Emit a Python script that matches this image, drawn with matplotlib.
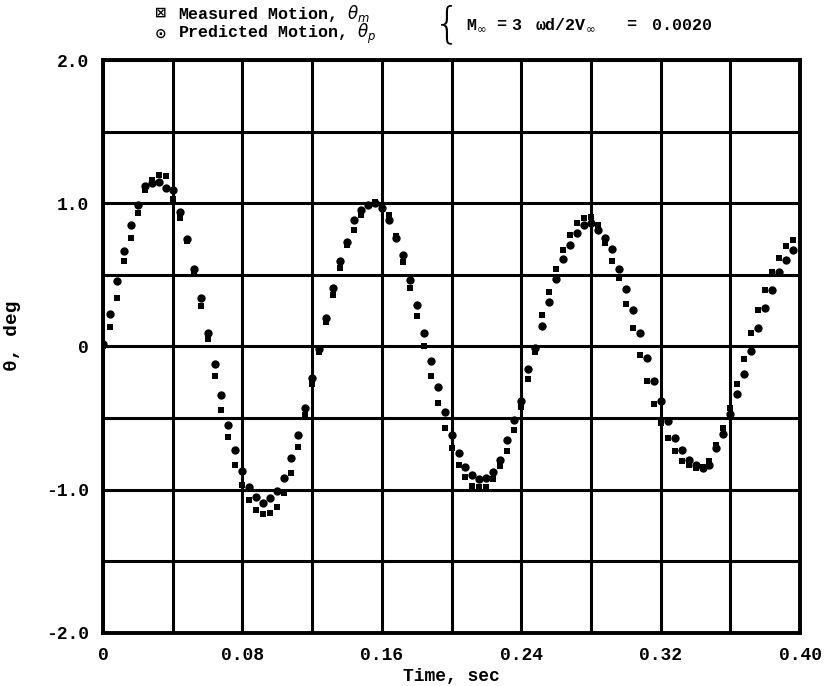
import numpy as np
import matplotlib
matplotlib.use("Agg")
import matplotlib.pyplot as plt

# time steps (sec)
t = [0.004 * k for k in range(100)]

measured = [
    0.00, 0.135, 0.34, 0.60, 0.76, 0.935, 1.09, 1.16, 1.20, 1.19,
    1.03, 0.90, 0.74, 0.52, 0.28, 0.055, -0.205, -0.44, -0.635, -0.83,
    -0.965, -1.07, -1.14, -1.17, -1.16, -1.12, -1.02, -0.88, -0.70, -0.48,
    -0.265, -0.04, 0.17, 0.36, 0.55, 0.71, 0.81, 0.92, 0.99, 1.01,
    0.99, 0.92, 0.77, 0.59, 0.41, 0.21, 0.00, -0.205, -0.395, -0.57,
    -0.71, -0.826, -0.914, -0.977, -0.984, -0.98, -0.923, -0.837, -0.73, -0.58,
    -0.42, -0.23, -0.04, 0.22, 0.38, 0.54, 0.675, 0.78, 0.86, 0.895,
    0.905, 0.85, 0.72, 0.60, 0.477, 0.30, 0.128, -0.06, -0.24, -0.40,
    -0.535, -0.64, -0.73, -0.80, -0.83, -0.85, -0.84, -0.80, -0.69, -0.57,
    -0.43, -0.26, -0.086, 0.093, 0.256, 0.396, 0.523, 0.616, 0.70, 0.745,
]

predicted = [
    0.02, 0.23, 0.46, 0.67, 0.85, 0.99, 1.12, 1.14, 1.15, 1.11,
    1.09, 0.94, 0.75, 0.54, 0.34, 0.095, -0.12, -0.34, -0.55, -0.72,
    -0.87, -0.98, -1.05, -1.09, -1.06, -1.01, -0.92, -0.78, -0.62, -0.43,
    -0.22, -0.02, 0.20, 0.41, 0.60, 0.73, 0.88, 0.95, 0.99, 1.00,
    0.97, 0.88, 0.76, 0.64, 0.465, 0.29, 0.093, -0.10, -0.286, -0.46,
    -0.616, -0.745, -0.844, -0.90, -0.923, -0.919, -0.877, -0.791, -0.65, -0.51,
    -0.38, -0.16, -0.01, 0.14, 0.31, 0.47, 0.61, 0.71, 0.79, 0.85,
    0.86, 0.815, 0.76, 0.68, 0.54, 0.40, 0.256, 0.093, -0.08, -0.24,
    -0.38, -0.52, -0.64, -0.72, -0.79, -0.83, -0.85, -0.83, -0.71, -0.61,
    -0.47, -0.33, -0.19, -0.03, 0.128, 0.267, 0.396, 0.523, 0.605, 0.675,
]

xticks_major = [0, 0.08, 0.16, 0.24, 0.32, 0.40]
xtick_labels = ["0", "0.08", "0.16", "0.24", "0.32", "0.40"]
xticks_minor = [0.04, 0.12, 0.20, 0.28, 0.36]
yticks_major = [-2.0, -1.0, 0, 1.0, 2.0]
ytick_labels = ["-2.0", "-1.0", "0", "1.0", "2.0"]
yticks_minor = [-1.5, -0.5, 0.5, 1.5]

FONT = ["Liberation Mono", "DejaVu Sans"]
FS = 13
HFS = 12

fig = plt.figure(figsize=(8.27, 6.86), dpi=100)
ax = fig.add_axes([0.1245, 0.0773, 0.8430, 0.8352])

ax.plot(t, measured, linestyle="none", marker="s", markersize=5.0,
        color="black", markeredgewidth=0, zorder=3)
ax.plot(t, predicted, linestyle="none", marker="o", markersize=6.0,
        color="black", markeredgewidth=0, zorder=3)

ax.set_xlim(0, 0.40)
ax.set_ylim(-2.0, 2.0)
ax.set_xticks(xticks_major)
ax.set_xticklabels(xtick_labels)
ax.set_xticks(xticks_minor, minor=True)
ax.set_yticks(yticks_major)
ax.set_yticklabels(ytick_labels)
ax.set_yticks(yticks_minor, minor=True)
ax.grid(True, which="both", color="black", linewidth=2.2)
ax.set_axisbelow(True)
ax.tick_params(which="both", length=0)
ax.tick_params(axis="x", pad=10)
ax.tick_params(axis="y", pad=10)
for lab in ax.get_xticklabels() + ax.get_yticklabels():
    lab.set_fontfamily(FONT)
    lab.set_fontweight("bold")
    lab.set_fontsize(FS)
for sp in ax.spines.values():
    sp.set_linewidth(2.8)

ax.set_xlabel("Time, sec", fontfamily=FONT, fontweight="bold", fontsize=FS, labelpad=3)
ax.set_ylabel("θ, deg", fontfamily=FONT, fontweight="bold", fontsize=14)
ax.yaxis.set_label_coords(-0.117, 0.518)

# header
y1 = 1 - 13 / 686
y2 = 1 - 34 / 686
yc = 1 - 25 / 686
fig.text(155 / 827, y1, "⊠", fontfamily="DejaVu Sans", fontsize=10, fontweight="bold", va="center")
fig.text(178 / 827, y1, "Measured Motion, $\\theta_m$", fontfamily=FONT, fontsize=HFS,
         fontweight="bold", va="center")
fig.text(155 / 827, y2, "⊙", fontfamily="DejaVu Sans", fontsize=10, fontweight="bold", va="center")
fig.text(178 / 827, y2, "Predicted Motion, $\\theta_p$", fontfamily=FONT, fontsize=HFS,
         fontweight="bold", va="center")
fig.text(447 / 827, yc, "{", fontfamily="DejaVu Sans", fontsize=30, fontweight="light",
         va="center", ha="center")
fig.text(466 / 827, yc, "M$_\\infty$", fontfamily=FONT, fontsize=HFS, fontweight="bold", va="center")
fig.text(496 / 827, yc, "=", fontfamily=FONT, fontsize=HFS, fontweight="bold", va="center")
fig.text(511 / 827, yc, "3", fontfamily=FONT, fontsize=HFS, fontweight="bold", va="center")
fig.text(535 / 827, yc, "ωd/2V$_\\infty$", fontfamily=FONT, fontsize=HFS,
         fontweight="bold", va="center")
fig.text(626 / 827, yc, "=", fontfamily=FONT, fontsize=HFS, fontweight="bold", va="center")
fig.text(652 / 827, yc, "0.0020", fontfamily=FONT, fontsize=HFS, fontweight="bold", va="center")

fig.savefig("out.png", dpi=100, facecolor="white")
